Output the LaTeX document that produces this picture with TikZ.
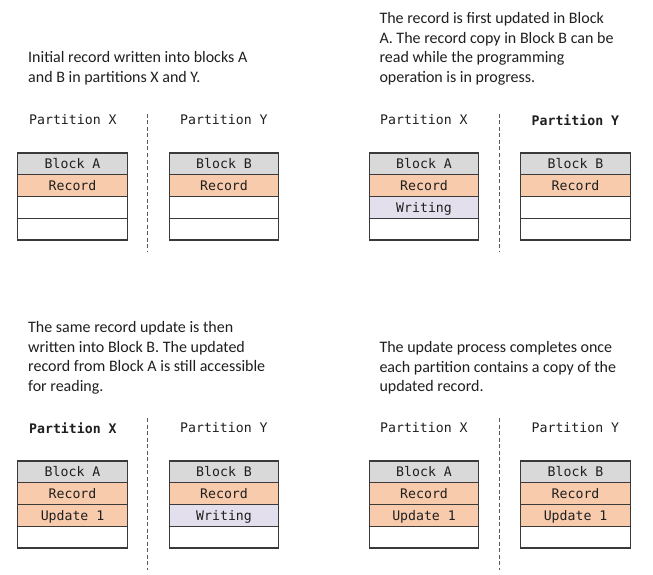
\documentclass[tikz,border=0pt]{standalone}
\usepackage{fontspec}
\setmainfont{Carlito}
\newfontfamily\monof{DejaVu Sans Mono}
\definecolor{hdrgray}{HTML}{D9D9D9}
\definecolor{recpeach}{HTML}{F8CBAD}
\definecolor{wrlav}{HTML}{E4DFEC}
\definecolor{edgegray}{HTML}{3A3A3A}
\definecolor{txtdark}{HTML}{1F1F1F}
\definecolor{dashgray}{HTML}{595959}
\tikzset{
  cell/.style={draw=edgegray, line width=1.2pt, minimum width=109.5pt, minimum height=21.75pt,
     inner sep=0pt, outer sep=0pt, font=\monof\fontsize{13.2}{15}\selectfont, text=txtdark,
     text height=9.6pt, text depth=0pt},
  hdr/.style={fill=hdrgray},
  rec/.style={fill=recpeach},
  wr/.style={fill=wrlav},
  emp/.style={fill=white},
  caption/.style={anchor=base west, align=left, inner sep=0pt, text=txtdark,
     font=\fontsize{16}{19.5}\selectfont},
  plabel/.style={anchor=west, inner sep=0pt, text=txtdark, font=\monof\fontsize{13.2}{15}\selectfont},
  divider/.style={draw=dashgray, line width=0.9pt, dash pattern=on 4pt off 2.5pt},
}
\newcommand\blockstack[7]{%
  \node[cell,hdr,anchor=north west] (#1h) at #2 {#3};
  \node[cell,#4,anchor=north] (#1r) at (#1h.south) {#5};
  \node[cell,#6,anchor=north] (#1u) at (#1r.south) {#7};
  \node[cell,emp,anchor=north] (#1e) at (#1u.south) {};
}
\begin{document}
\begin{tikzpicture}[x=1pt,y=-1pt]
\useasboundingbox[fill=white] (0,0) rectangle (653,575);

% ---------- Panel 1 (top-left)  (caption anchored at last line baseline)
\node[caption] (c1) at (28,82.5) {Initial record written into blocks A\\and B in partitions X and Y.};
\node[plabel] (p1x) at (29,120) {Partition X};
\node[plabel] (p1y) at (180,120) {Partition Y};
\coordinate (d1t) at (147.3,114);
\coordinate (d1b) at (147.3,252);
\draw[divider] (d1t) -- (d1b);
\blockstack{tla}{(17.8,153)}{Block A}{rec}{Record}{emp}{}
\blockstack{tlb}{(169.3,153)}{Block B}{rec}{Record}{emp}{}

% ---------- Panel 2 (top-right)
\node[caption] (c2) at (379.3,82.5) {The record is first updated in Block\\A. The record copy in Block B can be\\read while the programming\\operation is in progress.};
\node[plabel] (p2x) at (380,120) {Partition X};
\node[plabel] (p2y) at (531.5,120) {\bfseries Partition Y};
\coordinate (d2t) at (499.3,114);
\coordinate (d2b) at (499.3,252);
\draw[divider] (d2t) -- (d2b);
\blockstack{tra}{(369.3,153)}{Block A}{rec}{Record}{wr}{Writing}
\blockstack{trb}{(520.8,153)}{Block B}{rec}{Record}{emp}{}

% ---------- Panel 3 (bottom-left)
\node[caption] (c3) at (28,391.2) {The same record update is then\\written into Block B. The updated\\record from Block A is still accessible\\for reading.};
\node[plabel] (p3x) at (29,428) {\bfseries Partition X};
\node[plabel] (p3y) at (180,428) {Partition Y};
\coordinate (d3t) at (147.3,418);
\coordinate (d3b) at (147.3,570);
\draw[divider] (d3t) -- (d3b);
\blockstack{bla}{(17.8,461)}{Block A}{rec}{Record}{rec}{Update 1}
\blockstack{blb}{(169.3,461)}{Block B}{rec}{Record}{wr}{Writing}

% ---------- Panel 4 (bottom-right)
\node[caption] (c4) at (379.3,391.7) {The update process completes once\\each partition contains a copy of the\\updated record.};
\node[plabel] (p4x) at (380,428) {Partition X};
\node[plabel] (p4y) at (531.5,428) {Partition Y};
\coordinate (d4t) at (499.3,418);
\coordinate (d4b) at (499.3,570);
\draw[divider] (d4t) -- (d4b);
\blockstack{bra}{(369.3,461)}{Block A}{rec}{Record}{rec}{Update 1}
\blockstack{brb}{(520.8,461)}{Block B}{rec}{Record}{rec}{Update 1}
\end{tikzpicture}
\end{document}
